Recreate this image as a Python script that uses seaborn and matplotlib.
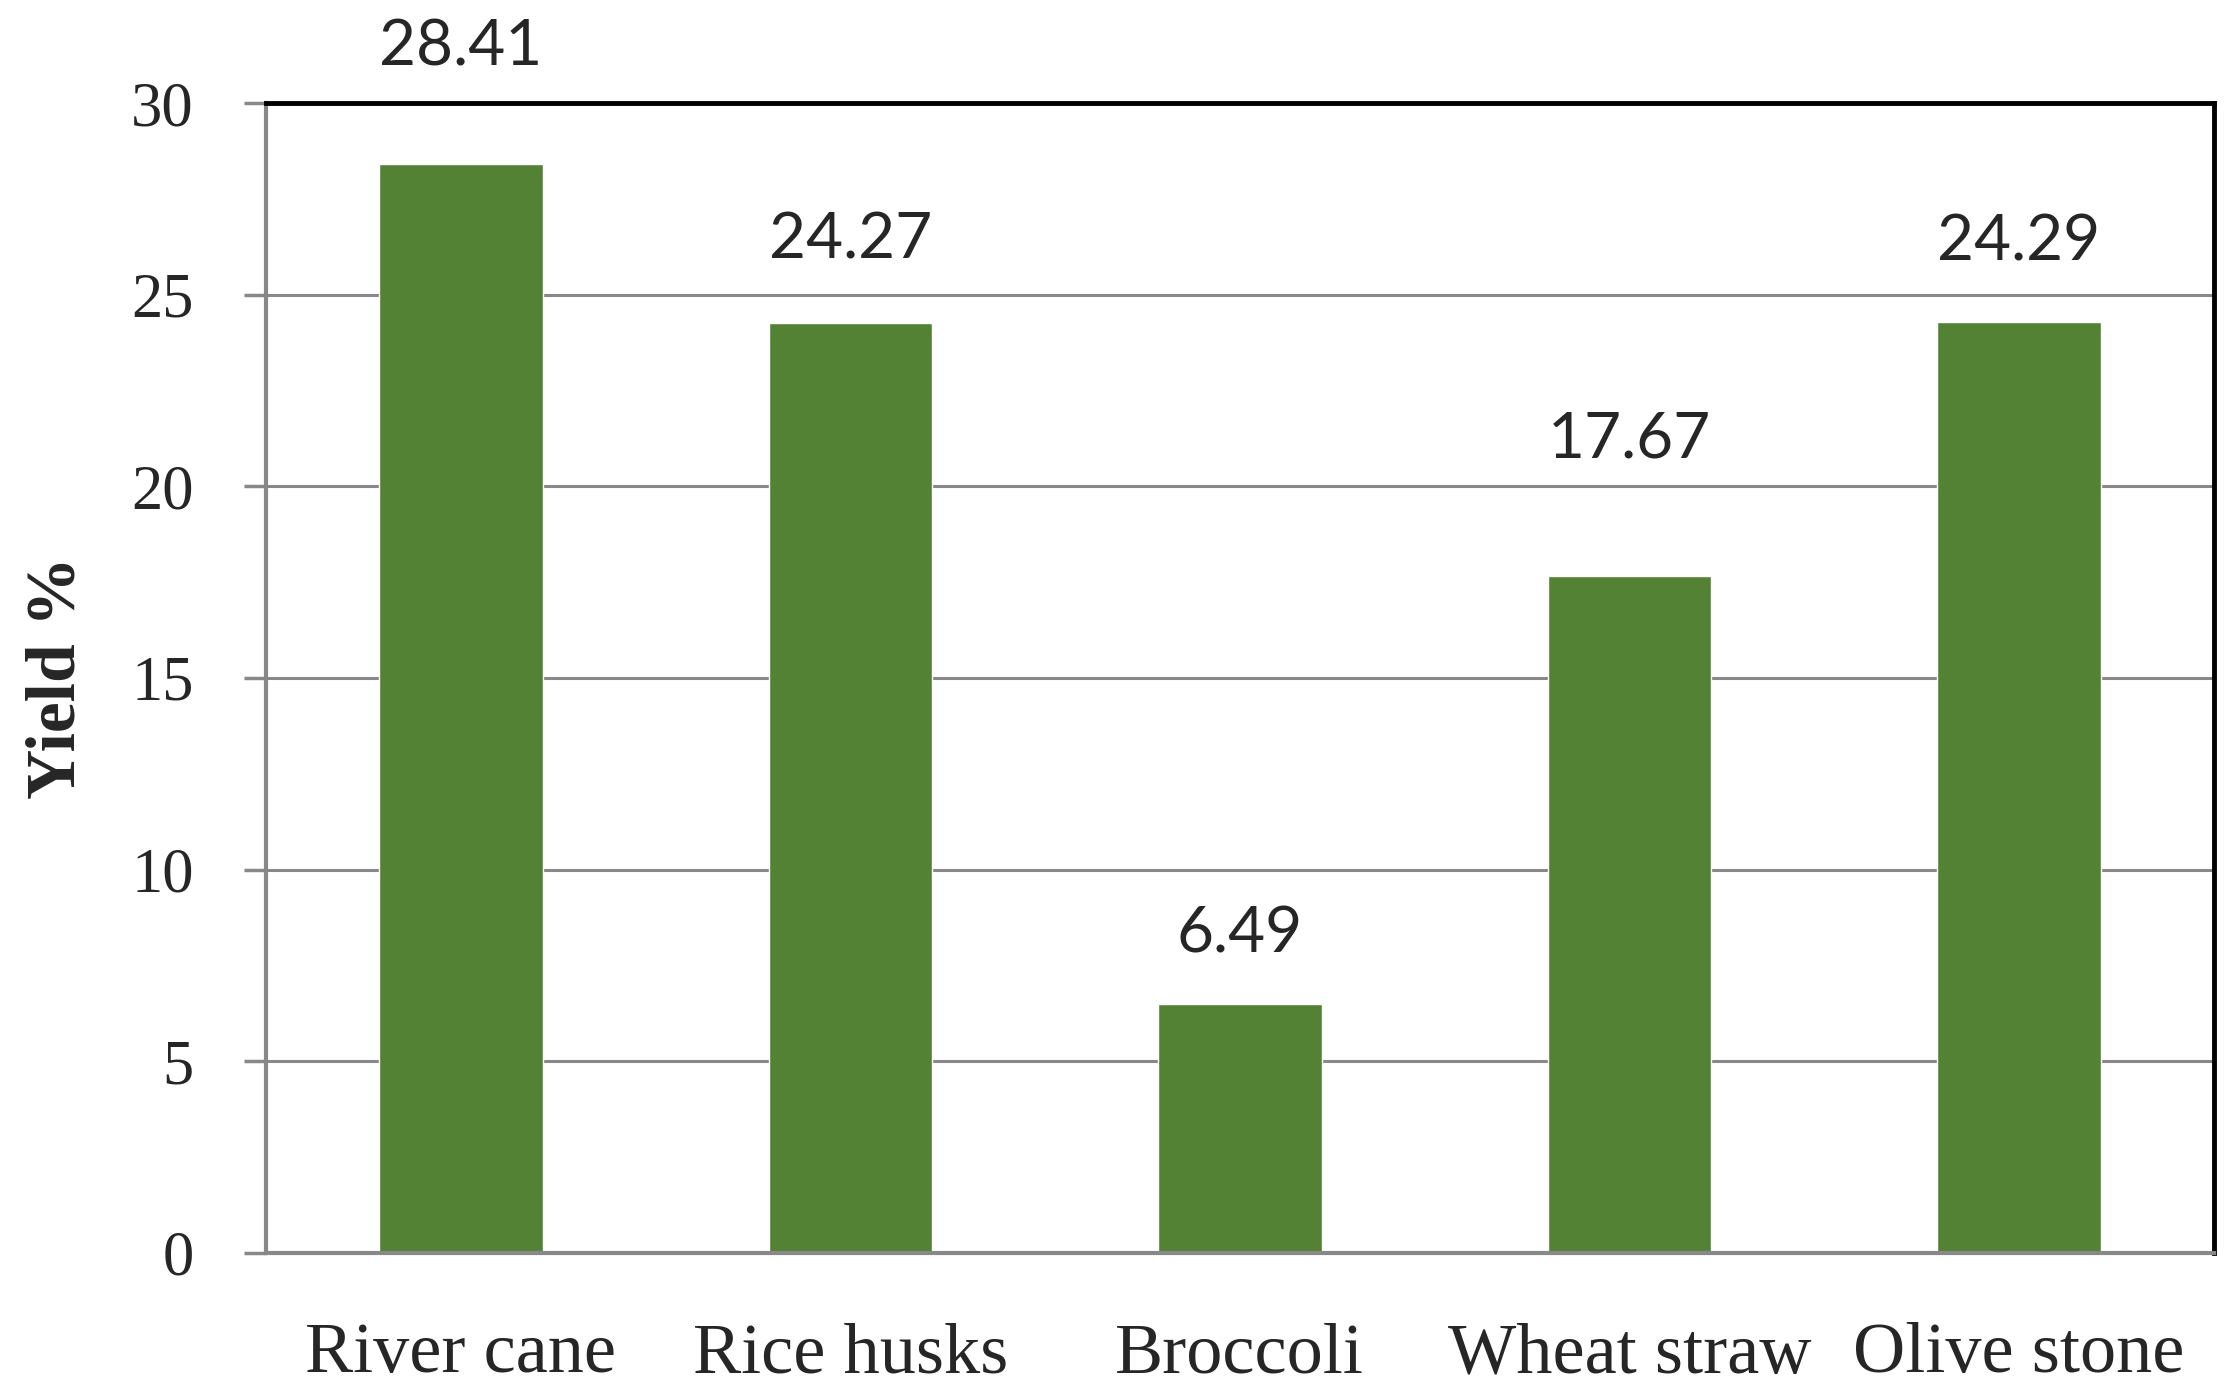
import matplotlib
matplotlib.use('Agg')
import matplotlib.pyplot as plt
import seaborn as sns
import pandas as pd

# Data
materials = ['River cane', 'Rice husks', 'Broccoli', 'Wheat straw', 'Olive stone']
yield_pct = [28.41, 24.27, 6.49, 17.67, 24.29]
# label offsets above bars (points), as placed in the original
label_pad = [84, 59, 50, 98, 57]

df = pd.DataFrame({'Material': materials, 'Yield': yield_pct})

sns.set_style('white')
plt.rcParams['font.family'] = ['Liberation Serif', 'DejaVu Serif']

fig, ax = plt.subplots(figsize=(22.36, 13.95), dpi=100)
fig.subplots_adjust(left=0.119, right=0.990, top=0.926, bottom=0.102)

sns.barplot(data=df, x='Material', y='Yield', color='#548235', width=0.42,
            saturation=1, ax=ax)

for p, v, pad in zip(ax.patches, yield_pct, label_pad):
    ax.annotate(f'{v:.2f}', (p.get_x() + p.get_width() / 2, v),
                xytext=(0, pad), textcoords='offset points',
                ha='center', va='center', fontsize=46,
                family=['Lato', 'DejaVu Sans'])

ax.set_ylim(0, 30)
ax.set_xlim(-0.5, len(materials) - 0.5)
ax.set_yticks(range(0, 31, 5))
ax.yaxis.grid(True, color='#888888', linewidth=2.2)
ax.set_axisbelow(True)

# category boundary ticks on x
ax.set_xticks(range(len(materials)))
ax.set_xticklabels(materials, fontsize=52)
ax.set_xticks([i - 0.5 for i in range(len(materials) + 1)], minor=True)
ax.tick_params(axis='x', which='major', length=0, pad=50)
ax.tick_params(axis='x', which='minor', length=16, width=2.5, color='#888888',
               direction='out')
ax.tick_params(axis='y', labelsize=45, length=16, width=2.5, color='#888888',
               direction='out', pad=36, left=True)

ax.set_xlabel('')
ax.set_ylabel('Yield %', fontsize=50, fontweight='bold', labelpad=30)

for side in ['top', 'right']:
    ax.spines[side].set_color('black')
    ax.spines[side].set_linewidth(3.5)
for side in ['left', 'bottom']:
    ax.spines[side].set_color('#888888')
    ax.spines[side].set_linewidth(3)

fig.savefig('out.png', dpi=100)
